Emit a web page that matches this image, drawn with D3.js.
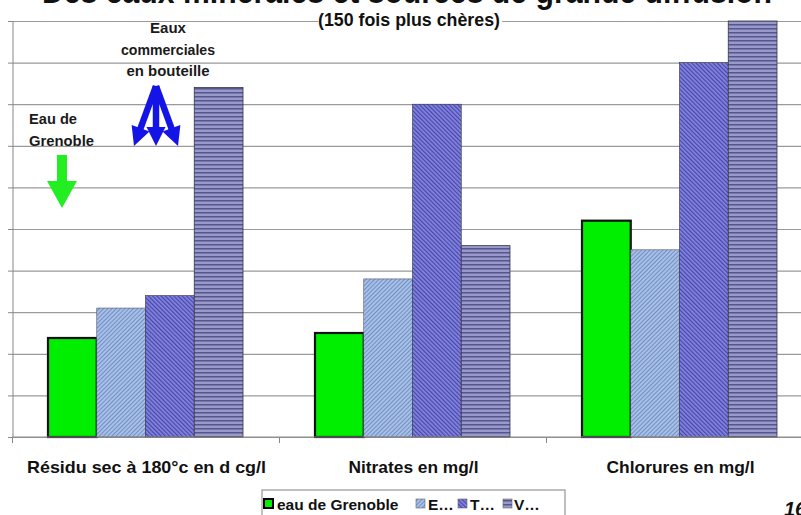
<!DOCTYPE html>
<html>
<head>
<meta charset="utf-8">
<script src="https://cdn.jsdelivr.net/npm/d3@7"></script>
<style>
  body { margin: 0; background: #fff; }
  svg { display: block; font-family: "Liberation Sans", Arial, sans-serif; }
</style>
</head>
<body>
<script>
var categories = ["Résidu sec à 180°c en d cg/l", "Nitrates en mg/l", "Chlorures en mg/l"];
var seriesNames = ["eau de Grenoble", "E...", "T...", "V..."];
var legendLabels = ["eau de Grenoble", "E…", "T…", "V…"];
var valGrenoble = [23.8, 25, 52];
var valE = [31, 38, 45];
var valT = [34, 80, 90];
var valV = [84, 46, 100];
var gridTicks = [0, 10, 20, 30, 40, 50, 60, 70, 80, 90, 100];

var W = 801, H = 515;
var svg = d3.select("body").append("svg").attr("width", W).attr("height", H);

// patterns
var defs = svg.append("defs");
var pE = defs.append("pattern").attr("id", "pE").attr("patternUnits", "userSpaceOnUse")
  .attr("width", 3).attr("height", 3).attr("patternTransform", "rotate(45)");
pE.append("rect").attr("width", 3).attr("height", 3).attr("fill", "#a9c0e6");
pE.append("rect").attr("width", 1).attr("height", 3).attr("fill", "#6f8fc6");

var pT = defs.append("pattern").attr("id", "pT").attr("patternUnits", "userSpaceOnUse")
  .attr("width", 3).attr("height", 3).attr("patternTransform", "rotate(-45)");
pT.append("rect").attr("width", 3).attr("height", 3).attr("fill", "#8484e0");
pT.append("rect").attr("width", 1.2).attr("height", 3).attr("fill", "#4646a8");

var pV = defs.append("pattern").attr("id", "pV").attr("patternUnits", "userSpaceOnUse")
  .attr("width", 4).attr("height", 4);
pV.append("rect").attr("width", 4).attr("height", 4).attr("fill", "#9a9aca");
pV.append("rect").attr("width", 4).attr("height", 1.5).attr("fill", "#55558f");

var fills = ["#00ee00", "url(#pE)", "url(#pT)", "url(#pV)"];
var strokes = ["#111", "#556", "#334", "#334"];
var strokeW = [2.2, 0.6, 0.6, 0.8];

var x0 = d3.scaleBand().domain(categories).range([12, 813]);
var x1 = d3.scaleBand().domain(seriesNames).range([36, 231]);
var y = d3.scaleLinear().domain([0, 100]).range([437, 21]);

// gridlines
svg.append("g")
  .attr("transform", "translate(13,0)")
  .call(d3.axisLeft(y).tickValues(gridTicks).tickSize(-(W - 13)).tickFormat(""))
  .call(function (g) {
    g.select(".domain").remove();
    g.selectAll("line").attr("stroke", "#9a9a9a").attr("stroke-width", 1.2);
  });

// left axis with outer ticks
svg.append("g")
  .attr("transform", "translate(13,0)")
  .call(d3.axisLeft(y).tickValues(gridTicks).tickSize(5).tickFormat(""))
  .call(function (g) {
    g.select(".domain").attr("stroke", "#888").attr("d", "M0,21V437");
    g.selectAll("line").attr("stroke", "#888");
  });

// bars
var data = [valGrenoble, valE, valT, valV];
data.forEach(function (vals, si) {
  svg.append("g").selectAll("rect")
    .data(vals).enter().append("rect")
    .attr("x", function (d, i) { return x0(categories[i]) + x1(seriesNames[si]); })
    .attr("y", function (d) { return y(d); })
    .attr("width", x1.bandwidth())
    .attr("height", function (d) { return y(0) - y(d); })
    .attr("fill", fills[si])
    .attr("stroke", strokes[si])
    .attr("stroke-width", strokeW[si]);
});

// x axis
svg.append("g")
  .attr("transform", "translate(0,437)")
  .call(d3.axisBottom(d3.scaleLinear().domain([0, 3]).range([12, 813])).ticks(3).tickSize(6).tickFormat(""))
  .call(function (g) {
    g.select(".domain").attr("stroke", "#888").attr("d", "M12,0H813");
    g.selectAll("line").attr("stroke", "#888");
  });

var catWidths = [239, 130, 148];
svg.append("g").selectAll("text")
  .data(categories).enter().append("text")
  .attr("x", function (d) { return x0(d) + x0.bandwidth() / 2 + 1; })
  .attr("y", 473)
  .attr("text-anchor", "middle")
  .attr("font-size", 17)
  .attr("font-weight", "bold")
  .attr("fill", "#111")
  .attr("textLength", function (d, i) { return catWidths[i]; })
  .attr("lengthAdjust", "spacingAndGlyphs")
  .text(function (d) { return d; });

// titles (first line is cut off by the top edge, as in the slide)
svg.append("text").attr("x", 407).attr("y", 3).attr("text-anchor", "middle")
  .attr("font-size", 34).attr("font-weight", "bold").attr("fill", "#111")
  .attr("textLength", 730).attr("lengthAdjust", "spacingAndGlyphs")
  .text("Des eaux minérales et sources de grande diffusion");
svg.append("rect").attr("x", 318).attr("y", 9).attr("width", 184).attr("height", 22).attr("fill", "#fff");
svg.append("text").attr("x", 409).attr("y", 26).attr("text-anchor", "middle")
  .attr("font-size", 19).attr("font-weight", "bold").attr("fill", "#111")
  .attr("textLength", 182).attr("lengthAdjust", "spacingAndGlyphs")
  .text("(150 fois plus chères)");

// annotations
var annoCom = ["Eaux", "commerciales", "en bouteille"];
var annoComW = [36, 94, 83];
svg.append("g").selectAll("text").data(annoCom).enter().append("text")
  .attr("x", 168).attr("y", function (d, i) { return 33 + i * 21.5; })
  .attr("text-anchor", "middle").attr("font-size", 15).attr("font-weight", "bold").attr("fill", "#1a1a1a")
  .attr("textLength", function (d, i) { return annoComW[i]; })
  .attr("lengthAdjust", "spacingAndGlyphs")
  .text(function (d) { return d; });
var annoGre = ["Eau de", "Grenoble"];
var annoGreW = [48, 65];
svg.append("g").selectAll("text").data(annoGre).enter().append("text")
  .attr("x", 29).attr("y", function (d, i) { return 124 + i * 21.5; })
  .attr("font-size", 15).attr("font-weight", "bold").attr("fill", "#1a1a1a")
  .attr("textLength", function (d, i) { return annoGreW[i]; })
  .attr("lengthAdjust", "spacingAndGlyphs")
  .text(function (d) { return d; });

// arrows
var blue = "#1414e6";
var ag = svg.append("g").attr("fill", blue).attr("stroke", blue);
[[134, 146], [156, 146], [178, 146]].forEach(function (t) {
  var ang = Math.atan2(t[1] - 86, t[0] - 156);
  var hx = Math.cos(ang), hy = Math.sin(ang);
  var bx = t[0] - hx * 19, by = t[1] - hy * 19;
  ag.append("line").attr("x1", 156).attr("y1", 86).attr("x2", bx + hx * 2).attr("y2", by + hy * 2)
    .attr("stroke-width", 6.5);
  ag.append("path").attr("stroke", "none")
    .attr("d", "M" + t[0] + "," + t[1] + "L" + (bx - hy * 9.5) + "," + (by + hx * 9.5) + "L" + (bx + hy * 9.5) + "," + (by - hx * 9.5) + "Z");
});
svg.append("path").attr("fill", "#22ee22")
  .attr("d", "M57,155H67V181H77L62,208L47,181H57Z");

// legend
var lg = svg.append("g");
lg.append("rect").attr("x", 262).attr("y", 490).attr("width", 303).attr("height", 30)
  .attr("fill", "#fff").attr("stroke", "#aaa").attr("stroke-width", 1.5);
var legX = [264, 416, 458, 503];
var legTX = [277, 428, 470, 514];
legendLabels.forEach(function (l, i) {
  lg.append("rect").attr("x", legX[i]).attr("y", 499).attr("width", 9).attr("height", 9)
    .attr("fill", fills[i]).attr("stroke", i === 0 ? "#000" : "#666").attr("stroke-width", i === 0 ? 2 : 0.6);
  lg.append("text").attr("x", legTX[i]).attr("y", 510).attr("font-size", 15.5).attr("font-weight", "bold")
    .attr("fill", "#111").text(l);
});

// page number
svg.append("text").attr("x", 784).attr("y", 516).attr("font-size", 20).attr("font-weight", "bold")
  .attr("font-style", "italic").attr("fill", "#111").text("16");
</script>
</body>
</html>
